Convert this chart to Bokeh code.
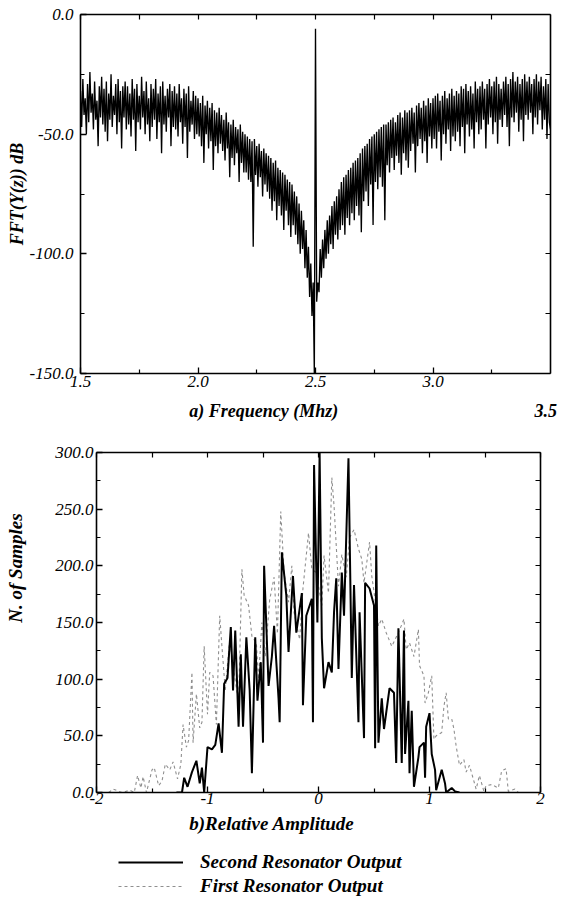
import numpy as np
from bokeh.plotting import figure
from bokeh.models import (Range1d, LinearAxis, FixedTicker, Legend,
                          LegendItem, PrintfTickFormatter)
from bokeh.embed import file_html
from bokeh.resources import INLINE

# ---------------- data: panel a) spectrum ----------------
freq_mhz = np.round(np.arange(1.50, 3.50001, 0.005), 3)
fft_db = [
    -32, -47, -27, -42, -35, -50, -29, -45, -24, -41, -33, -48, -28, -44, -36, -55, -30, -43, -26, -46,
    -31, -49, -28, -53, -33, -44, -25, -47, -34, -42, -29, -50, -27, -45, -32, -56, -30, -43, -28, -48,
    -30, -46, -33, -51, -27, -44, -31, -57, -29, -45, -34, -48, -26, -43, -32, -50, -28, -46, -35, -53,
    -29, -47, -31, -44, -27, -52, -33, -45, -30, -58, -28, -46, -34, -49, -31, -43, -29, -55, -32, -47,
    -30, -48, -33, -51, -29, -45, -35, -54, -31, -47, -33, -60, -30, -49, -36, -46, -32, -52, -34, -50,
    -35, -51, -37, -55, -34, -62, -38, -50, -36, -56, -39, -53, -37, -65, -40, -55, -41, -58, -39, -54,
    -42, -57, -44, -61, -41, -56, -45, -68, -46, -60, -44, -63, -47, -58, -48, -70, -46, -62, -49, -66,
    -50, -66, -51, -69, -52, -70, -53, -97, -52, -67, -55, -72, -54, -68, -57, -76, -56, -71, -58, -74,
    -59, -77, -60, -82, -62, -78, -61, -86, -64, -80, -65, -84, -66, -90, -67, -82, -69, -88, -70, -93,
    -71, -88, -74, -92, -76, -96, -79, -100, -82, -98, -86, -106, -90, -110, -97, -118, -104, -126, -112, -150,
    -6, -120, -112, -116, -98, -110, -94, -106, -90, -102, -86, -100, -84, -96, -80, -98, -78, -92, -76, -94,
    -73, -90, -70, -88, -68, -92, -67, -85, -65, -88, -64, -83, -62, -86, -61, -80, -60, -84, -58, -91,
    -56, -78, -55, -74, -54, -80, -52, -71, -51, -88, -50, -70, -49, -73, -48, -68, -47, -72, -46, -86,
    -46, -63, -45, -66, -44, -60, -43, -65, -45, -59, -42, -62, -41, -67, -43, -58, -40, -61, -41, -64,
    -40, -57, -39, -54, -41, -66, -38, -55, -37, -52, -39, -58, -36, -53, -38, -62, -35, -51, -37, -56,
    -35, -52, -34, -56, -33, -49, -36, -61, -34, -50, -32, -54, -35, -48, -33, -57, -31, -51, -34, -53,
    -32, -49, -33, -55, -30, -47, -31, -58, -29, -46, -32, -51, -30, -48, -33, -56, -28, -45, -31, -50,
    -30, -48, -28, -44, -31, -56, -29, -46, -27, -43, -30, -50, -28, -45, -26, -54, -29, -44, -31, -47,
    -28, -42, -26, -47, -29, -55, -27, -43, -24, -45, -28, -41, -26, -49, -29, -44, -27, -53, -25, -42,
    -28, -44, -26, -41, -29, -50, -27, -43, -25, -46, -28, -40, -26, -48, -30, -44, -27, -52, -29, -45,
    -48,
]
top_x_ticks = [1.5, 2.0, 2.5, 3.0]
top_x_minor = [1.75, 2.25, 2.75, 3.25]
top_y_ticks = [-150, -100, -50, 0]
top_y_minor = [-125, -75, -25]
top_x_title = "a) Frequency (Mhz)"
top_y_title = "FFT(Y(z)) dB"
top_extra_label = "3.5"

# ---------------- data: panel b) histograms ----------------
second_x = [-1.28, -1.23, -1.21, -1.18, -1.14, -1.10, -1.07, -1.05, -1.03, -1.00,
            -0.96, -0.93, -0.90, -0.87, -0.85, -0.82, -0.79, -0.77, -0.75, -0.72,
            -0.70, -0.68, -0.65, -0.62, -0.60, -0.57, -0.55, -0.52, -0.50, -0.49,
            -0.45, -0.42, -0.40, -0.36, -0.35, -0.33, -0.29, -0.27, -0.23, -0.20,
            -0.15, -0.14, -0.11, -0.06, -0.05, -0.04, -0.01, 0.01, 0.03, 0.05,
            0.09, 0.12, 0.14, 0.16, 0.18, 0.21, 0.23, 0.27, 0.30, 0.32,
            0.36, 0.37, 0.41, 0.42, 0.46, 0.50, 0.51, 0.52, 0.54, 0.57,
            0.59, 0.64, 0.68, 0.70, 0.72, 0.75, 0.77, 0.78, 0.81, 0.82,
            0.84, 0.86, 0.90, 0.91, 0.95, 0.96, 0.97, 1.00, 1.02, 1.05,
            1.06, 1.11, 1.14, 1.15, 1.20, 1.23, 1.27]
second_n = [0, 0, 13, 5, 18, 28, 8, 22, 0, 40,
            38, 42, 61, 35, 96, 101, 146, 90, 143, 58,
            122, 58, 137, 90, 17, 137, 81, 115, 44, 200,
            94, 120, 147, 83, 62, 212, 174, 124, 191, 141,
            176, 77, 156, 171, 62, 289, 150, 300, 136, 92,
            115, 106, 159, 189, 109, 194, 156, 295, 101, 183,
            62, 159, 48, 185, 180, 165, 39, 218, 44, 83,
            56, 92, 88, 26, 145, 26, 143, 34, 81, 17,
            72, 5, 31, 40, 44, 13, 58, 70, 34, 20,
            2, 20, 8, 0, 4, 1, 0]

first_x = [-1.89, -1.85, -1.77, -1.70, -1.66, -1.63, -1.60, -1.58, -1.55, -1.50,
           -1.48, -1.44, -1.41, -1.38, -1.34, -1.31, -1.27, -1.24, -1.22, -1.19,
           -1.17, -1.14, -1.13, -1.10, -1.07, -1.05, -1.03, -1.00, -0.98, -0.95,
           -0.92, -0.89, -0.87, -0.84, -0.80, -0.76, -0.72, -0.69, -0.67, -0.63,
           -0.60, -0.56, -0.54, -0.51, -0.48, -0.44, -0.40, -0.37, -0.34, -0.31,
           -0.27, -0.24, -0.22, -0.17, -0.14, -0.09, -0.06, -0.02, 0.03, 0.05,
           0.09, 0.12, 0.14, 0.18, 0.21, 0.25, 0.28, 0.32, 0.36, 0.39,
           0.41, 0.46, 0.48, 0.51, 0.54, 0.57, 0.61, 0.66, 0.72, 0.77,
           0.79, 0.82, 0.86, 0.90, 0.91, 0.95, 0.96, 0.99, 1.02, 1.04,
           1.06, 1.11, 1.13, 1.15, 1.17, 1.20, 1.22, 1.24, 1.27, 1.31,
           1.33, 1.36, 1.40, 1.42, 1.45, 1.49, 1.51, 1.56, 1.62, 1.65,
           1.69, 1.71, 1.77, 1.80]
first_n = [0, 3, 0, 2, 0, 15, 4, 14, 0, 20,
           22, 6, 10, 25, 20, 27, 12, 25, 60, 40,
           46, 106, 44, 87, 57, 62, 129, 69, 106, 103,
           60, 156, 129, 90, 135, 105, 80, 197, 174, 165,
           138, 132, 100, 150, 120, 170, 190, 140, 248, 194,
           168, 200, 159, 135, 180, 229, 197, 194, 165, 209,
           176, 278, 253, 182, 210, 190, 225, 232, 215, 206,
           185, 221, 191, 170, 147, 153, 141, 129, 141, 153,
           126, 132, 120, 144, 112, 103, 79, 88, 103, 47,
           50, 53, 76, 88, 65, 65, 56, 41, 24, 29,
           18, 24, 10, 3, 15, 1, 6, 7, 4, 19,
           21, 1, 3, 0]
bot_x_ticks = [-2, -1, 0, 1, 2]
bot_x_minor = [-1.5, -0.5, 0.5, 1.5]
bot_y_ticks = [0, 50, 100, 150, 200, 250, 300]
bot_y_minor = [25, 75, 125, 175, 225, 275]
bot_x_title = "b)Relative Amplitude"
bot_y_title = "N. of Samples"
series_names = ["Second Resonator Output", "First Resonator Output"]

SERIF = "Liberation Serif"
BLACK_STYLE = dict(line_color="black", line_width=2)
GRAY_STYLE = dict(line_color="#8f8f8f", line_width=1.1, line_dash="3 3")


def tick_axis(ticks, minor, fmt, standoff):
    ax = LinearAxis(ticker=FixedTicker(ticks=ticks, minor_ticks=minor),
                    formatter=PrintfTickFormatter(format=fmt))
    ax.axis_line_width = 1.6
    ax.axis_line_color = "black"
    ax.major_tick_in = 6
    ax.major_tick_out = 0
    ax.minor_tick_in = 4
    ax.minor_tick_out = 0
    ax.major_tick_line_width = 1.3
    ax.minor_tick_line_width = 1.2
    ax.major_label_text_font = SERIF
    ax.major_label_text_font_style = "italic"
    ax.major_label_text_font_size = "17px"
    ax.major_label_text_color = "black"
    ax.major_label_standoff = standoff
    return ax


def mirror_axis(ticks, minor):
    # opposite frame edge: tick marks only, no labels
    ax = LinearAxis(ticker=FixedTicker(ticks=[], minor_ticks=sorted(ticks + minor)))
    ax.axis_line_width = 1.6
    ax.axis_line_color = "black"
    ax.minor_tick_in = 5
    ax.minor_tick_out = 0
    ax.minor_tick_line_width = 1.2
    ax.major_label_standoff = 0
    return ax


def title_axis(positions, texts, size, standoff, orientation="horizontal"):
    ax = LinearAxis(ticker=FixedTicker(ticks=positions, minor_ticks=[]),
                    major_label_overrides=dict(zip(positions, texts)))
    ax.axis_line_color = None
    ax.major_tick_line_color = None
    ax.minor_tick_line_color = None
    ax.major_label_text_font = SERIF
    ax.major_label_text_font_style = "bold italic"
    ax.major_label_text_font_size = size
    ax.major_label_text_color = "black"
    ax.major_label_standoff = standoff
    ax.major_label_orientation = orientation
    return ax


# ---------------- panel a ----------------
p1 = figure(width=560, height=433, output_backend="svg", toolbar_location=None,
            x_range=Range1d(1.5, 3.5), y_range=Range1d(-150, 0),
            x_axis_location=None, y_axis_location=None,
            min_border_left=80, min_border_right=10, min_border_top=14,
            min_border_bottom=60)
p1.grid.visible = False
p1.outline_line_color = None
p1.line(freq_mhz, fft_db, line_color="black", line_width=1.35)

p1.add_layout(tick_axis(top_x_ticks, top_x_minor, "%.1f", 2), "below")
p1.add_layout(title_axis([2.28, 3.48], [top_x_title, top_extra_label], "18px", 5), "below")
p1.add_layout(mirror_axis(top_x_ticks, top_x_minor), "above")
ax = tick_axis(top_y_ticks, top_y_minor, "%.1f", 7)
ax.axis_label = top_y_title
ax.axis_label_text_font = SERIF
ax.axis_label_text_font_style = "bold italic"
ax.axis_label_text_font_size = "18px"
ax.axis_label_text_color = "black"
ax.axis_label_standoff = 0
p1.add_layout(ax, "left")
p1.add_layout(mirror_axis(top_y_ticks, top_y_minor), "right")

# ---------------- panel b ----------------
p2 = figure(width=560, height=407, output_backend="svg", toolbar_location=None,
            x_range=Range1d(-2, 2), y_range=Range1d(0, 300),
            x_axis_location=None, y_axis_location=None,
            min_border_left=96, min_border_right=20, min_border_top=19,
            min_border_bottom=48)
p2.grid.visible = False
p2.outline_line_color = None
p2.line(first_x, first_n, **GRAY_STYLE)
p2.line(second_x, second_n, **BLACK_STYLE)

p2.add_layout(tick_axis(bot_x_ticks, bot_x_minor, "%d", 0), "below")
p2.add_layout(title_axis([-0.42], [bot_x_title], "19px", 0), "below")
p2.add_layout(mirror_axis(bot_x_ticks, bot_x_minor), "above")
p2.add_layout(tick_axis(bot_y_ticks, bot_y_minor, "%.1f", 3), "left")
p2.add_layout(title_axis([198], [bot_y_title], "19px", 20, "vertical"), "left")
p2.add_layout(mirror_axis(bot_y_ticks, bot_y_minor), "right")

# ---------------- legend strip ----------------
p3 = figure(width=560, height=57, output_backend="svg", toolbar_location=None,
            x_range=Range1d(0, 1), y_range=Range1d(0, 1),
            x_axis_location=None, y_axis_location=None,
            min_border=0, min_border_left=0, min_border_right=0,
            min_border_top=0, min_border_bottom=0)
p3.grid.visible = False
p3.outline_line_color = None
# key-only renderers (no visible points) carrying the two series' line styles
key_second = p3.line(x=[np.nan], y=[np.nan], **BLACK_STYLE)
key_first = p3.line(x=[np.nan], y=[np.nan], **GRAY_STYLE)
legend = Legend(items=[LegendItem(label=series_names[0], renderers=[key_second]),
                       LegendItem(label=series_names[1], renderers=[key_first])],
                location=(118, 0), orientation="vertical",
                glyph_width=65, glyph_height=22, label_height=22, spacing=2,
                label_standoff=17, padding=0, margin=0,
                border_line_alpha=0, background_fill_alpha=0,
                label_text_font=SERIF, label_text_font_style="bold italic",
                label_text_font_size="19px", label_text_color="black")
p3.add_layout(legend, "center")

open("out.html", "w").write(file_html([p1, p2, p3], INLINE))
